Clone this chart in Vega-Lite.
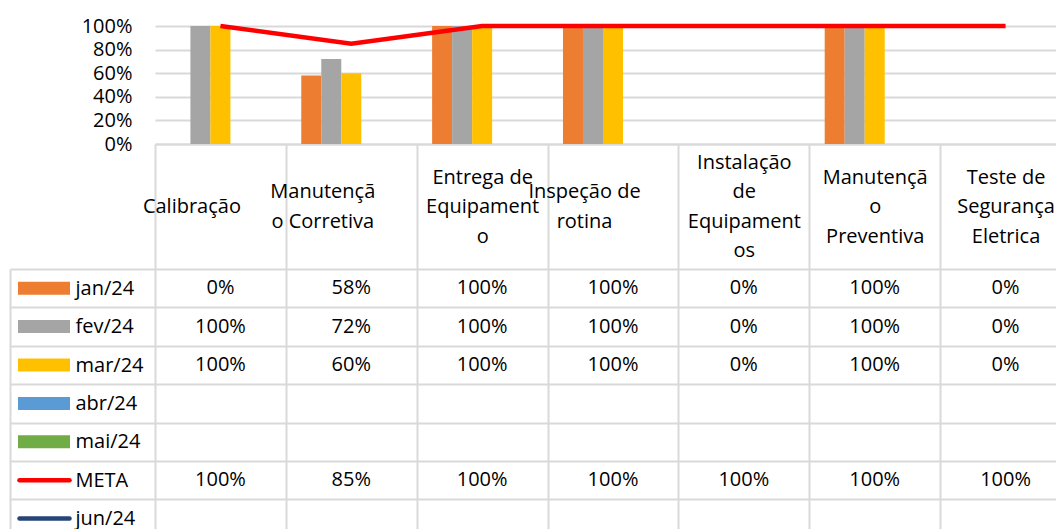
{
  "$schema": "https://vega.github.io/schema/vega-lite/v6.json",
  "width": 1056,
  "height": 529,
  "autosize": {"type": "none"},
  "padding": 0,
  "background": "white",
  "config": {
    "view": {"stroke": null},
    "font": "Open Sans",
    "axis": {"labelFont": "Open Sans", "labelColor": "black", "labelFontSize": 20, "title": null}
  },
  "datasets": {
    "valores": [
      {"tarefa": "Calibração", "serie": "jan/24", "valor": 0},
      {"tarefa": "Manutenção Corretiva", "serie": "jan/24", "valor": 0.58},
      {"tarefa": "Entrega de Equipamento", "serie": "jan/24", "valor": 1},
      {"tarefa": "Inspeção de rotina", "serie": "jan/24", "valor": 1},
      {"tarefa": "Instalação de Equipamentos", "serie": "jan/24", "valor": 0},
      {"tarefa": "Manutenção Preventiva", "serie": "jan/24", "valor": 1},
      {"tarefa": "Teste de Segurança Eletrica", "serie": "jan/24", "valor": 0},
      {"tarefa": "Calibração", "serie": "fev/24", "valor": 1},
      {"tarefa": "Manutenção Corretiva", "serie": "fev/24", "valor": 0.72},
      {"tarefa": "Entrega de Equipamento", "serie": "fev/24", "valor": 1},
      {"tarefa": "Inspeção de rotina", "serie": "fev/24", "valor": 1},
      {"tarefa": "Instalação de Equipamentos", "serie": "fev/24", "valor": 0},
      {"tarefa": "Manutenção Preventiva", "serie": "fev/24", "valor": 1},
      {"tarefa": "Teste de Segurança Eletrica", "serie": "fev/24", "valor": 0},
      {"tarefa": "Calibração", "serie": "mar/24", "valor": 1},
      {"tarefa": "Manutenção Corretiva", "serie": "mar/24", "valor": 0.6},
      {"tarefa": "Entrega de Equipamento", "serie": "mar/24", "valor": 1},
      {"tarefa": "Inspeção de rotina", "serie": "mar/24", "valor": 1},
      {"tarefa": "Instalação de Equipamentos", "serie": "mar/24", "valor": 0},
      {"tarefa": "Manutenção Preventiva", "serie": "mar/24", "valor": 1},
      {"tarefa": "Teste de Segurança Eletrica", "serie": "mar/24", "valor": 0},
      {"tarefa": "Calibração", "serie": "META", "valor": 1},
      {"tarefa": "Manutenção Corretiva", "serie": "META", "valor": 0.85},
      {"tarefa": "Entrega de Equipamento", "serie": "META", "valor": 1},
      {"tarefa": "Inspeção de rotina", "serie": "META", "valor": 1},
      {"tarefa": "Instalação de Equipamentos", "serie": "META", "valor": 1},
      {"tarefa": "Manutenção Preventiva", "serie": "META", "valor": 1},
      {"tarefa": "Teste de Segurança Eletrica", "serie": "META", "valor": 1}
    ],
    "series": [
      {"serie": "jan/24", "tipo": "barra"},
      {"serie": "fev/24", "tipo": "barra"},
      {"serie": "mar/24", "tipo": "barra"},
      {"serie": "abr/24", "tipo": "barra"},
      {"serie": "mai/24", "tipo": "barra"},
      {"serie": "META", "tipo": "linha"},
      {"serie": "jun/24", "tipo": "linha"}
    ]
  },
  "resolve": {"scale": {"x": "independent", "y": "independent"}},
  "layer": [
    {
      "data": {"name": "valores"},
      "layer": [
        {
          "transform": [{"filter": {"field": "serie", "oneOf": ["jan/24", "fev/24", "mar/24"]}}],
          "mark": {"type": "bar"},
          "encoding": {
            "x": {
              "field": "tarefa",
              "type": "nominal",
              "scale": {
                "type": "band",
                "domain": ["Calibração", "Manutenção Corretiva", "Entrega de Equipamento", "Inspeção de rotina", "Instalação de Equipamentos", "Manutenção Preventiva", "Teste de Segurança Eletrica"],
                "range": [155, 1071],
                "paddingInner": 0,
                "paddingOuter": 0
              },
              "axis": {
                "orient": "bottom",
                "offset": -385,
                "tickSize": 385,
                "tickBand": "extent",
                "tickColor": "#D9D9D9",
                "tickWidth": 2,
                "domain": true,
                "domainColor": "#D9D9D9",
                "domainWidth": 2,
                "grid": false,
                "labelPadding": {
                  "condition": [
                    {"test": "datum.value == 'Instalação de Equipamentos'", "value": -366.75},
                    {"test": "indexof(['Entrega de Equipamento','Manutenção Preventiva','Teste de Segurança Eletrica'], datum.value) >= 0", "value": -352},
                    {"test": "indexof(['Manutenção Corretiva','Inspeção de rotina'], datum.value) >= 0", "value": -337.25}
                  ],
                  "value": -322.5
                },
                "labelAngle": 0,
                "labelAlign": "center",
                "labelBaseline": "middle",
                "labelLineHeight": 29.5,
                "labelOverlap": false,
                "labelFlush": false,
                "labelLimit": 0,
                "labelOffset": {"condition": {"test": "indexof(['Calibração','Manutenção Corretiva','Inspeção de rotina'], datum.value) >= 0", "value": -29}, "value": 0},
                "labelExpr": "datum.value == 'Manutenção Corretiva' ? ['Manutençã','o Corretiva'] : datum.value == 'Entrega de Equipamento' ? ['Entrega de','Equipament','o'] : datum.value == 'Inspeção de rotina' ? ['Inspeção de','rotina'] : datum.value == 'Instalação de Equipamentos' ? ['Instalação','de','Equipament','os'] : datum.value == 'Manutenção Preventiva' ? ['Manutençã','o','Preventiva'] : datum.value == 'Teste de Segurança Eletrica' ? ['Teste de','Segurança','Eletrica'] : datum.label"
              }
            },
            "xOffset": {
              "field": "serie",
              "type": "nominal",
              "scale": {"domain": ["jan/24", "fev/24", "mar/24", "abr/24", "mai/24"], "paddingInner": 0, "paddingOuter": 0.77}
            },
            "y": {
              "field": "valor",
              "type": "quantitative",
              "scale": {"domain": [0, 1], "range": [144, 26], "nice": false},
              "axis": {
                "orient": "left",
                "offset": -132,
                "values": [0, 0.2, 0.4, 0.6, 0.8, 1],
                "format": ".0%",
                "grid": true,
                "gridColor": "#D9D9D9",
                "gridWidth": 2,
                "domain": false,
                "ticks": false,
                "labelPadding": 0,
                "labelOverlap": false,
                "labelFlush": false
              }
            },
            "color": {
              "field": "serie",
              "type": "nominal",
              "scale": {
                "domain": ["jan/24", "fev/24", "mar/24", "abr/24", "mai/24", "META", "jun/24"],
                "range": ["#ED7D31", "#A5A5A5", "#FFC000", "#5B9BD5", "#70AD47", "#FF0000", "#264478"]
              },
              "legend": null
            }
          }
        },
        {
          "transform": [{"filter": {"field": "serie", "equal": "META"}}],
          "mark": {"type": "line", "strokeWidth": 4.5},
          "encoding": {
            "x": {"field": "tarefa", "type": "nominal"},
            "y": {"field": "valor", "type": "quantitative"},
            "color": {"field": "serie", "type": "nominal", "legend": null}
          }
        }
      ]
    },
    {
      "data": {"name": "valores"},
      "mark": {"type": "text", "fontSize": 20, "color": "black", "font": "Open Sans"},
      "encoding": {
        "x": {
          "field": "tarefa",
          "type": "nominal",
          "scale": {
            "type": "band",
            "domain": ["Calibração", "Manutenção Corretiva", "Entrega de Equipamento", "Inspeção de rotina", "Instalação de Equipamentos", "Manutenção Preventiva", "Teste de Segurança Eletrica"],
            "range": [155, 1071],
            "paddingInner": 0,
            "paddingOuter": 0
          },
          "axis": null
        },
        "y": {
          "field": "serie",
          "type": "nominal",
          "scale": {
            "type": "band",
            "domain": ["jan/24", "fev/24", "mar/24", "abr/24", "mai/24", "META", "jun/24"],
            "range": [269, 537.8],
            "paddingInner": 0,
            "paddingOuter": 0
          },
          "axis": {
            "orient": "right",
            "offset": -1046,
            "tickSize": 1046,
            "tickBand": "extent",
            "tickColor": "#D9D9D9",
            "tickWidth": 2,
            "domain": true,
            "domainColor": "#D9D9D9",
            "domainWidth": 2,
            "grid": false,
            "labelPadding": -981,
            "labelAlign": "left",
            "labelBaseline": "middle",
            "labelOverlap": false,
            "labelFlush": false
          }
        },
        "text": {"field": "valor", "type": "quantitative", "format": ".0%"}
      }
    },
    {
      "data": {"name": "series"},
      "transform": [{"filter": {"field": "tipo", "equal": "barra"}}],
      "mark": {"type": "rule", "strokeWidth": 13, "strokeCap": "butt"},
      "encoding": {
        "x": {"datum": 0, "type": "quantitative", "scale": {"domain": [0, 1], "range": [18, 70]}, "axis": null},
        "x2": {"datum": 1},
        "y": {
          "field": "serie",
          "type": "nominal",
          "scale": {
            "type": "band",
            "domain": ["jan/24", "fev/24", "mar/24", "abr/24", "mai/24", "META", "jun/24"],
            "range": [269, 537.8],
            "paddingInner": 0,
            "paddingOuter": 0
          },
          "axis": null
        },
        "color": {"field": "serie", "type": "nominal", "legend": null}
      }
    },
    {
      "data": {"name": "series"},
      "transform": [{"filter": {"field": "tipo", "equal": "linha"}}],
      "mark": {"type": "rule", "strokeWidth": 4.5, "strokeCap": "round"},
      "encoding": {
        "x": {"datum": 0, "type": "quantitative", "scale": {"domain": [0, 1], "range": [19.5, 69.5]}, "axis": null},
        "x2": {"datum": 1},
        "y": {
          "field": "serie",
          "type": "nominal",
          "scale": {
            "type": "band",
            "domain": ["jan/24", "fev/24", "mar/24", "abr/24", "mai/24", "META", "jun/24"],
            "range": [269, 537.8],
            "paddingInner": 0,
            "paddingOuter": 0
          },
          "axis": null
        },
        "color": {"field": "serie", "type": "nominal", "legend": null}
      }
    }
  ]
}
